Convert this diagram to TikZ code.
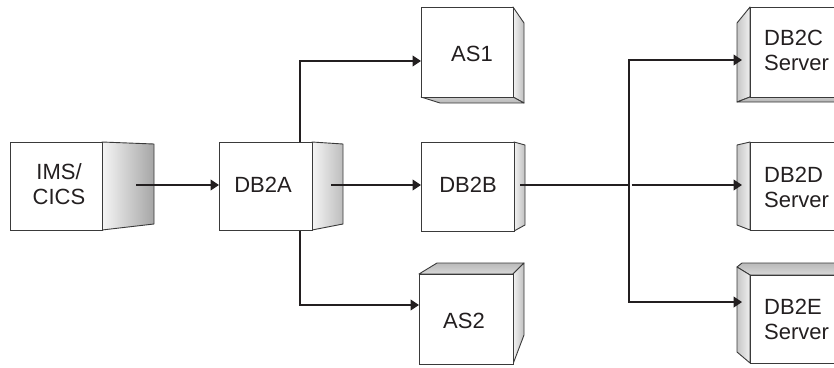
\documentclass[tikz,border=0pt]{standalone}
\usepackage{fontspec}
\setmainfont{Liberation Sans}
\usetikzlibrary{arrows.meta,calc}
\definecolor{ink}{HTML}{231F20}
\definecolor{edge}{HTML}{3A3A3A}
\tikzset{
  front/.style={draw=edge, line width=0.9pt, fill=white, inner sep=0pt, anchor=north west},
  face/.style={draw=edge, line width=0.9pt, line join=round},
  lbl/.style={font=\fontsize{22}{25}\selectfont, inner sep=0pt, text=ink},
  conn/.style={draw=ink, line width=1.2pt},
  tip/.tip={Triangle[length=8.5pt,width=11pt]},
  arr/.style={conn, -tip},
}
\begin{document}
\begin{tikzpicture}[x=1pt,y=-1pt]
\useasboundingbox (0,0) rectangle (834,367);
\clip (0,0) rectangle (834,367);

% ---------- IMS/CICS ----------
\shadedraw[face, left color=gray!8, right color=gray!70] (102,142) -- (154,144) -- (154,224) -- (102,230) -- cycle;
\node[front, minimum width=92pt, minimum height=88pt] (ims) at (10,142) {};
\node[lbl, align=center] (imst) at (59,184) {IMS/\\CICS};

% ---------- DB2A ----------
\shadedraw[face, left color=gray!8, right color=gray!52] (312,142) -- (343,144) -- (343,224) -- (312,230) -- cycle;
\node[front, minimum width=93pt, minimum height=88pt] (db2a) at (219,142) {};
\node[lbl] (db2at) at (263,185) {DB2A};

% ---------- DB2B ----------
\shadedraw[face, left color=gray!10, right color=gray!50] (514,142) -- (525,145) -- (525,225) -- (514,231) -- cycle;
\node[front, minimum width=93pt, minimum height=89pt] (db2b) at (421,142) {};
\node[lbl] (db2bt) at (468,185) {DB2B};

% ---------- AS1 ----------
\shadedraw[face, left color=gray!10, right color=gray!50] (513,7) -- (524,23) -- (524,103) -- (513,97) -- cycle;
\shadedraw[face, top color=gray!40, bottom color=gray!55] (421,97) -- (440,103) -- (524,103) -- (513,97) -- cycle;
\node[front, minimum width=92pt, minimum height=90pt] (as1) at (421,7) {};
\node[lbl] (as1t) at (472,54) {AS1};

% ---------- AS2 ----------
\shadedraw[face, top color=gray!55, bottom color=gray!30] (419,274) -- (437,263) -- (524,263) -- (513,274) -- cycle;
\shadedraw[face, left color=gray!10, right color=gray!50] (513,274) -- (524,263) -- (524,335) -- (513,364) -- cycle;
\node[front, minimum width=94pt, minimum height=90pt] (as2) at (419,274) {};
\node[lbl] (as2t) at (464,321) {AS2};

% ---------- DB2C Server ----------
\shadedraw[face, left color=gray!45, right color=gray!12] (750,7) -- (737,23) -- (737,102) -- (750,97) -- cycle;
\shadedraw[face, top color=gray!40, bottom color=gray!60] (750,97) -- (737,102) -- (850,102) -- (850,97) -- cycle;
\node[front, minimum width=100pt, minimum height=90pt] (db2c) at (750,7) {};
\node[lbl, align=left, anchor=west] (db2ct) at (764,50) {DB2C\\Server};

% ---------- DB2D Server ----------
\shadedraw[face, left color=gray!45, right color=gray!12] (750,142) -- (737,145) -- (737,225) -- (750,230) -- cycle;
\node[front, minimum width=100pt, minimum height=88pt] (db2d) at (750,142) {};
\node[lbl, align=left, anchor=west] (db2dt) at (764,187) {DB2D\\Server};

% ---------- DB2E Server ----------
\shadedraw[face, top color=gray!55, bottom color=gray!30] (750,275) -- (737,267) -- (742,263) -- (850,263) -- (850,275) -- cycle;
\shadedraw[face, left color=gray!45, right color=gray!12] (737,267) -- (750,275) -- (750,363) -- (737,352) -- cycle;
\node[front, minimum width=100pt, minimum height=88pt] (db2e) at (750,275) {};
\node[lbl, align=left, anchor=west] (db2et) at (764,319) {DB2E\\Server};

% ---------- connector end points ----------
\coordinate (imsout) at (136,185);
\coordinate (db2aout) at (331,185);
\coordinate (upj) at ($(db2a.north west)+(81,0)$);
\coordinate (dnj) at ($(db2a.south west)+(81,0)$);
\coordinate (as1in) at ($(as1.north west)+(0,54)$);
\coordinate (as2in) at ($(as2.north west)+(0,31)$);
\coordinate (db2bout) at (520,185);
\coordinate (busT) at (629,60);
\coordinate (busB) at (629,302);
\coordinate (db2cin) at (742,60);
\coordinate (db2din) at (742,185);
\coordinate (db2ein) at (742,302);

% ---------- connectors ----------
\draw[arr] (imsout) -- (imsout -| db2a.west);
\draw[arr] (db2aout) -- (db2aout -| db2b.west);
\draw[arr] (upj) |- (as1in);
\draw[arr] (dnj) |- (as2in);
\draw[conn] (db2bout) -- (db2bout -| busT);
\draw[arr] ($(db2bout -| busT)+(2.6,0)$) -- (db2din);
\draw[conn, tip-tip, line join=miter] (db2cin) -- (busT) -- (busB) -- (db2ein);
\end{tikzpicture}
\end{document}
